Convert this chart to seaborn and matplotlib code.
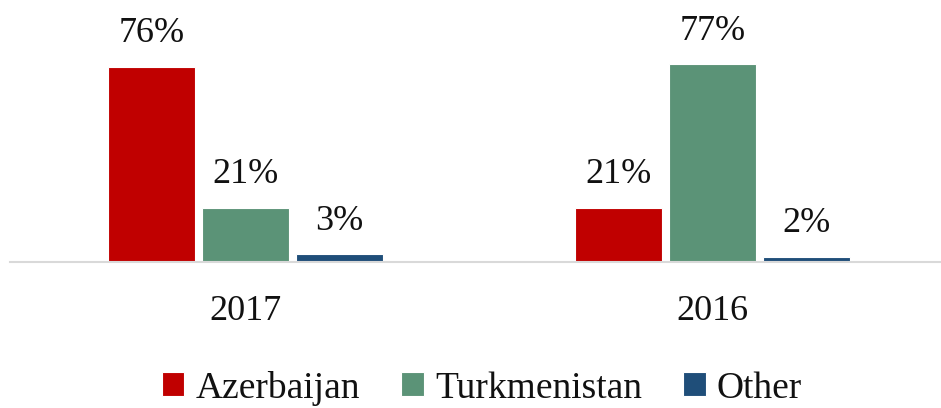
import matplotlib
matplotlib.use("Agg")
import matplotlib.pyplot as plt
import pandas as pd
import seaborn as sns

# chart data
years = ["2017", "2016"]
origins = ["Azerbaijan", "Turkmenistan", "Other"]
azerbaijan = [76, 21]
turkmenistan = [21, 77]
other = [3, 2]
colors = ["#C00000", "#5B9377", "#1F4E79"]

df = pd.DataFrame({
    "year": years * 3,
    "origin": [o for o in origins for _ in years],
    "share": azerbaijan + turkmenistan + other,
})

sns.set_style("white")
plt.rcParams["font.family"] = ["Liberation Serif", "DejaVu Serif"]

fig = plt.figure(figsize=(9.41, 4.08), dpi=100)
ax = fig.add_axes([10 / 941, 146 / 408, 931 / 941, 256.6 / 408])

sns.barplot(data=df, x="year", y="share", hue="origin", order=years,
            hue_order=origins, palette=colors, saturation=1, width=0.603, gap=0.075,
            edgecolor="white", linewidth=0.8, ax=ax)

for cont in ax.containers:
    ax.bar_label(cont, labels=[f"{v:.0f}%" for v in cont.datavalues],
                 padding=12, fontsize=26, color="#111111")

ax.set_ylim(0, 100)
ax.set_xlim(-0.504, 1.489)
ax.set_xlabel("")
ax.set_ylabel("")
ax.set_yticks([])
ax.tick_params(axis="x", length=0, pad=24, labelsize=26, labelcolor="#111111")
for side in ["top", "left", "right"]:
    ax.spines[side].set_visible(False)
ax.spines["bottom"].set_color("#D9D9D9")
ax.spines["bottom"].set_linewidth(1.5)

# legend below the chart
handles, labels = ax.get_legend_handles_labels()
ax.get_legend().remove()
leg = fig.legend(handles, labels, loc="center", bbox_to_anchor=(482 / 941, 1 - 388 / 408),
                 ncol=3, frameon=False, fontsize=27, handlelength=0.6, handleheight=0.6,
                 handletextpad=0.3, columnspacing=1.1, borderpad=0)
for t in leg.get_texts():
    t.set_color("#111111")

fig.savefig("out.png", dpi=100)
